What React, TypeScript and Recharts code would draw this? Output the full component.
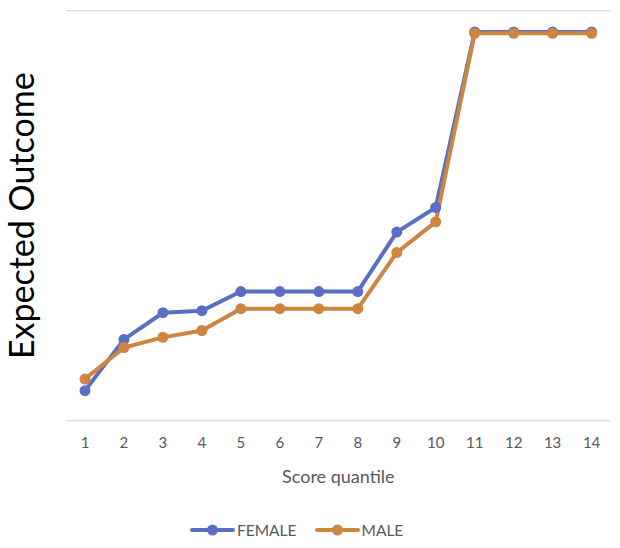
import React from 'react';
import { LineChart, Line, XAxis, YAxis, CartesianGrid, Legend, Label } from 'recharts';

const quantiles = ['1', '2', '3', '4', '5', '6', '7', '8', '9', '10', '11', '12', '13', '14'];
const female = [0.44, 1.19, 1.58, 1.61, 1.89, 1.89, 1.89, 1.89, 2.76, 3.12, 5.69, 5.69, 5.69, 5.69];
const male = [0.61, 1.07, 1.22, 1.32, 1.64, 1.64, 1.64, 1.64, 2.46, 2.91, 5.67, 5.67, 5.67, 5.67];
const yTicks = [0, 1, 2, 3, 4, 5, 6];

const BLUE = '#5A6FC4';
const ORANGE = '#CD8540';
const FONT = 'Lato, "Liberation Sans", sans-serif';

const data = quantiles.map((q, i) => ({ quantile: q, FEMALE: female[i], MALE: male[i] }));

const YTitle = ({ viewBox }: any) => {
  const cy = viewBox.y + viewBox.height / 2;
  return (
    <text
      x={21}
      y={cy}
      transform={`rotate(-90, 21, ${cy})`}
      textAnchor="middle"
      dominantBaseline="central"
      fontSize={34}
      fontFamily={FONT}
      fill="#000"
    >
      Expected Outcome
    </text>
  );
};

const LegendIcon = ({ color }: { color: string }) => (
  <svg width={45} height={14} style={{ display: 'block' }}>
    <line x1={2} y1={7} x2={43} y2={7} stroke={color} strokeWidth={4} strokeLinecap="round" />
    <circle cx={22.5} cy={7} r={5.5} fill={color} />
  </svg>
);

const renderLegend = () => (
  <div
    style={{
      height: 24,
      display: 'flex',
      alignItems: 'center',
      paddingLeft: 190,
      fontFamily: FONT,
      fontSize: 15.5,
      color: '#595959',
    }}
  >
    {[
      { name: 'FEMALE', color: BLUE },
      { name: 'MALE', color: ORANGE },
    ].map((s) => (
      <div key={s.name} style={{ display: 'flex', alignItems: 'center', marginRight: 18 }}>
        <LegendIcon color={s.color} />
        <span style={{ marginLeft: 2 }}>{s.name}</span>
      </div>
    ))}
  </div>
);

export default function App() {
  return (
    <div style={{ position: 'absolute', left: 0, top: 0 }}>
      <LineChart
        width={620}
        height={548}
        data={data}
        margin={{ top: 10.7, right: 9.4, left: 0, bottom: 6 }}
      >
        <CartesianGrid vertical={false} stroke="#d9d9d9" strokeWidth={1.3} />
        <XAxis
          dataKey="quantile"
          padding={{ left: 19, right: 19 }}
          axisLine={false}
          tickLine={false}
          tickSize={0}
          tickMargin={17}
          height={97.3}
          tick={{ fill: '#595959', fontSize: 15, fontFamily: FONT }}
        >
          <Label
            value="Score quantile"
            position="insideTop"
            offset={50}
            fill="#595959"
            fontSize={18}
            fontFamily={FONT}
          />
        </XAxis>
        <YAxis
          domain={[0, 6]}
          ticks={yTicks}
          width={66}
          tick={false}
          axisLine={false}
          tickLine={false}
        >
          <Label content={<YTitle />} />
        </YAxis>
        <Legend verticalAlign="bottom" content={renderLegend} />
        <Line
          type="linear"
          dataKey="FEMALE"
          stroke={BLUE}
          strokeWidth={4}
          dot={{ r: 5.5, fill: BLUE, stroke: BLUE, strokeWidth: 0 }}
          activeDot={false}
          isAnimationActive={false}
        />
        <Line
          type="linear"
          dataKey="MALE"
          stroke={ORANGE}
          strokeWidth={4}
          dot={{ r: 5.5, fill: ORANGE, stroke: ORANGE, strokeWidth: 0 }}
          activeDot={false}
          isAnimationActive={false}
        />
      </LineChart>
    </div>
  );
}
